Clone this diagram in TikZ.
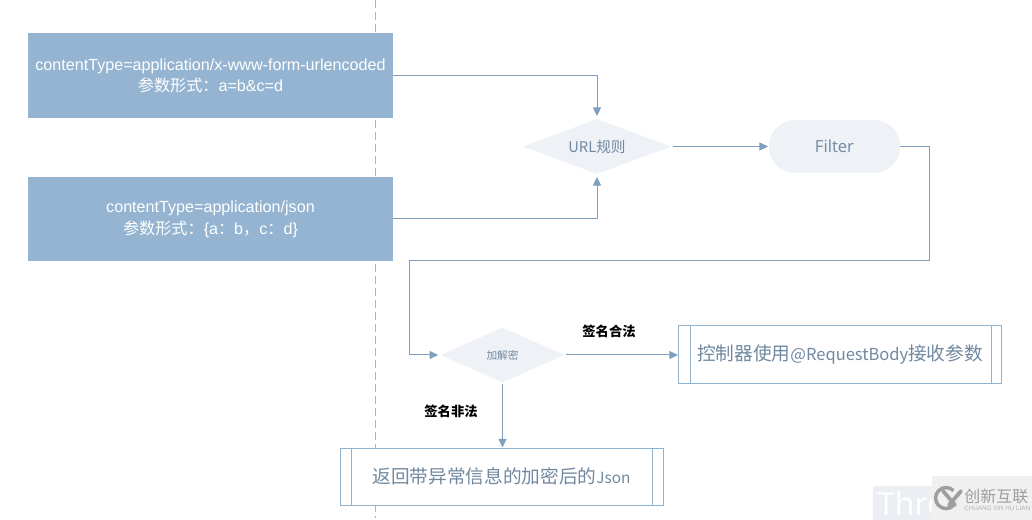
\documentclass[tikz,border=0pt]{standalone}
\usepackage{fontspec}
\setmainfont{Liberation Sans}
\newfontfamily\cjk{Noto Sans CJK SC}
\newfontfamily\ui{Open Sans}
\usetikzlibrary{shapes.geometric,arrows.meta}
\definecolor{boxfill}{HTML}{94B4D1}
\definecolor{boxedge}{HTML}{8FB2CF}
\definecolor{wire}{HTML}{7F9FBE}
\definecolor{pale}{HTML}{EEF1F6}
\definecolor{ink}{HTML}{7088A0}
\newcommand{\latinpart}[1]{{\fontsize{12.4}{16}\selectfont #1}}
\tikzset{
  x=0.75pt,y=-0.75pt,
  inputbox/.style={rectangle,fill=boxfill,text=white,align=center,minimum width=365*0.75pt,inner sep=0pt},
  decide/.style={diamond,fill=pale,text=ink,inner sep=0pt,aspect=2.7},
  pill/.style={rectangle,rounded corners=19.5pt,fill=pale,text=ink,minimum width=131*0.75pt,minimum height=53*0.75pt,inner sep=0pt,font=\ui\fontsize{12.5}{15}\selectfont},
  subproc/.style={rectangle,draw=boxedge,fill=white,line width=0.75pt,text=ink,minimum width=323*0.75pt,minimum height=57*0.75pt,inner sep=0pt,font=\cjk\fontsize{14}{16}\selectfont},
  wirearrow/.style={draw=wire,line width=0.75pt,-{Triangle[length=6.5pt,width=6pt]}},
  guide/.style={draw=black!30,line width=0.75pt,dash pattern=on 6pt off 3pt},
  tag/.style={font=\cjk\bfseries\fontsize{10}{12}\selectfont,text=black,inner sep=0pt},
}
\begin{document}
\begin{tikzpicture}
\useasboundingbox (0,0) rectangle (1032,520);
\coordinate (gtop) at (375,0);
\coordinate (gbot) at (375,518);
\draw[guide] (gtop) -- (gbot);

\node[inputbox,minimum height=85*0.75pt,font=\fontsize{12.1}{15.8}\selectfont] (form) at (210.5,75.5) {contentType=application/x-www-form-urlencoded\\{\cjk 参数形式：}a=b\&c=d};
\node[inputbox,minimum height=84*0.75pt,font=\fontsize{12.1}{16.6}\selectfont] (json) at (210.5,219) {contentType=application/json\\{\cjk 参数形式：}\{a{\cjk ：}b{\cjk ，}c{\cjk ：}d\}};

\node[decide,minimum width=148*0.75pt,minimum height=55*0.75pt,font=\cjk\fontsize{11}{13}\selectfont] (url) at (597,146.5) {URL规则};
\node[pill] (filter) at (834.5,146.5) {Filter};
\node[decide,minimum width=124*0.75pt,minimum height=55*0.75pt,font=\cjk\fontsize{8}{10}\selectfont] (crypt) at (502.5,355) {加解密};

\node[subproc] (ctrl) at (840,354.5) {控制器使用\latinpart{@RequestBody}接收参数};
\draw[boxedge,line width=0.75pt] ([xshift=9pt]ctrl.north west) -- ([xshift=9pt]ctrl.south west);
\draw[boxedge,line width=0.75pt] ([xshift=-8.25pt]ctrl.north east) -- ([xshift=-8.25pt]ctrl.south east);

\node[subproc] (err) at (501.5,476.5) {返回带异常信息的加密后的{\fontsize{11.5}{16}\selectfont Json}};
\draw[boxedge,line width=0.75pt] ([xshift=9pt]err.north west) -- ([xshift=9pt]err.south west);
\draw[boxedge,line width=0.75pt] ([xshift=-8.25pt]err.north east) -- ([xshift=-8.25pt]err.south east);

\draw[wirearrow,shorten >=2pt] (form.east) -| (url.north);
\draw[wirearrow,shorten >=2pt] (json.east) -| (url.south);
\draw[wirearrow,shorten <=1.5pt,shorten >=0.5pt] (url.east) -- (filter.west);
\coordinate (bendA) at (929,146.5);
\coordinate (bendB) at (929,260.5);
\coordinate (bendC) at (409.5,260.5);
\coordinate (bendD) at (409.5,355);
\draw[wirearrow,shorten >=1.5pt] (filter.east) -- (bendA) -- (bendB) -- (bendC) -- (bendD) -- (crypt.west);
\draw[wirearrow,shorten <=1pt] (crypt.east) -- (crypt.east -| ctrl.west);
\draw[wirearrow,shorten <=1pt] (crypt.south) -- (crypt.south |- err.north);

\node[tag] (ok) at (609,331) {签名合法};
\node[tag] (bad) at (451,411.5) {签名非法};

% corner watermark
\fill[black!2!pale!90!white] (873,486) rectangle (1032,520);
\node[anchor=west,text=white,inner sep=0pt,font=\ui\fontsize{24}{28}\selectfont] (thro) at (877,503) {Thro};
\fill[black!6] (932,476) rectangle (1032,520);
\draw[black!38,line width=2.6pt] (953.5,505.5) arc (45:315:10.5);
\draw[black!38,line width=2.8pt,line cap=round] (943,491) -- (955,505) (961,491) -- (949,505);
\node[anchor=west,text=black!38,inner sep=0pt,font=\cjk\fontsize{12}{14}\selectfont] (brand) at (964,496) {创新互联};
\node[anchor=west,text=black!30,inner sep=0pt,font=\fontsize{4.7}{5}\selectfont] (brandsub) at (964,508.5) {CHUANG XIN HU LIAN};
\end{tikzpicture}
\end{document}
